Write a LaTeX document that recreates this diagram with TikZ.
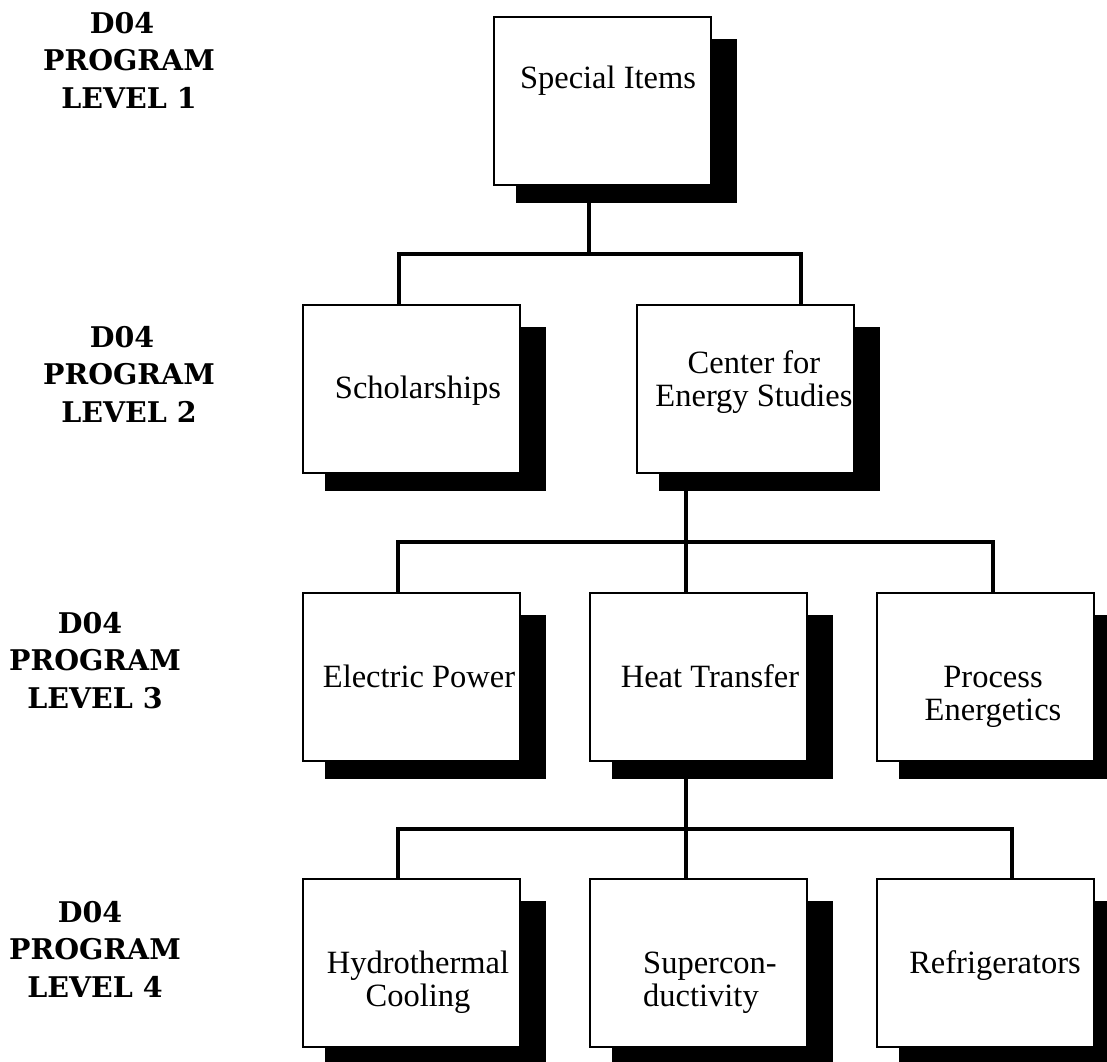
\documentclass[tikz,border=0pt]{standalone}
\usepackage{fontspec}
\setmainfont{Liberation Serif}
\newfontfamily\levelfont{DejaVu Serif}
\pgfdeclarelayer{behind}
\pgfsetlayers{behind,main}
\begin{document}
\begin{tikzpicture}[x=1pt, y=-1pt,
  unit/.style={draw, line width=2pt, fill=white, inner sep=0pt,
    minimum width=217pt, minimum height=168pt, anchor=north west},
  shade box/.style={fill=black},
  caption/.style={anchor=base, inner sep=0pt,
    font=\fontsize{32.5}{33.5}\selectfont},
  levelnote/.style={anchor=base, inner sep=0pt,
    font=\levelfont\bfseries\fontsize{28.5}{37.5}\selectfont},
  conn/.style={line width=4.4pt, line join=miter}]
\useasboundingbox (0,0) rectangle (1107,1061);

% level labels
\node[levelnote] (lv1) at (129,33) {\begin{tabular}[t]{@{}c@{}}D04\hspace*{14pt}\\PROGRAM\\LEVEL 1\end{tabular}};
\node[levelnote] (lv2) at (129,347) {\begin{tabular}[t]{@{}c@{}}D04\hspace*{14pt}\\PROGRAM\\LEVEL 2\end{tabular}};
\node[levelnote] (lv3) at (95,633) {\begin{tabular}[t]{@{}c@{}}D04\hspace*{10pt}\\PROGRAM\\LEVEL 3\end{tabular}};
\node[levelnote] (lv4) at (95,922) {\begin{tabular}[t]{@{}c@{}}D04\hspace*{10pt}\\PROGRAM\\LEVEL 4\end{tabular}};

% boxes
\node[unit] (si)  at (493,16)  {};
\node[unit] (sch) at (302,304) {};
\node[unit] (ces) at (636,304) {};
\node[unit] (ep)  at (302,592) {};
\node[unit] (ht)  at (589,592) {};
\node[unit] (pe)  at (876,592) {};
\node[unit] (hc)  at (302,878) {};
\node[unit] (sc)  at (589,878) {};
\node[unit] (rf)  at (876,878) {};

% black drop shadows behind the boxes
\begin{pgfonlayer}{behind}
\foreach \b in {si,sch,ces,ep,ht,pe,hc,sc,rf}
  \fill[shade box] ([shift={(23pt,-23pt)}]\b.north west) rectangle ([shift={(25pt,-17pt)}]\b.south east);
\end{pgfonlayer}

% box texts
\node[caption] (siT)  at (608,88)  {Special Items};
\node[caption] (schT) at (418,398) {Scholarships};
\node[caption] (cesT) at (754,373) {\begin{tabular}[t]{@{}c@{}}Center for\\Energy Studies\end{tabular}};
\node[caption] (epT)  at (419,687) {Electric Power};
\node[caption] (htT)  at (710,687) {Heat Transfer};
\node[caption] (peT)  at (993,687) {\begin{tabular}[t]{@{}c@{}}Process\\Energetics\end{tabular}};
\node[caption] (hcT)  at (418,973) {\begin{tabular}[t]{@{}c@{}}Hydrothermal\\Cooling\end{tabular}};
\node[caption, anchor=base west] (scT) at (643,973) {\begin{tabular}[t]{@{}l@{}}Supercon-\\ductivity\end{tabular}};
\node[caption] (rfT)  at (995,973) {Refrigerators};

% junctions of the connector bars
\coordinate (b1) at (589,254);
\coordinate (j1l) at (399,254);
\coordinate (j1r) at (801,254);
\coordinate (b2) at (686,542);
\coordinate (j2l) at (398,542);
\coordinate (j2r) at (993,542);
\coordinate (b3) at (686,829);
\coordinate (j3l) at (398,829);
\coordinate (j3r) at (1012,829);

% connectors
\draw[conn] (si.south -| b1) -- (b1);
\draw[conn] (j1l |- sch.north) -- (j1l) -- (j1r) -- (j1r |- ces.north);
\draw[conn] (ces.south -| b2) -- (b2 |- ht.north);
\draw[conn] (j2l |- ep.north) -- (j2l) -- (j2r) -- (j2r |- pe.north);
\draw[conn] (ht.south -| b3) -- (b3 |- sc.north);
\draw[conn] (j3l |- hc.north) -- (j3l) -- (j3r) -- (j3r |- rf.north);
\end{tikzpicture}
\end{document}
